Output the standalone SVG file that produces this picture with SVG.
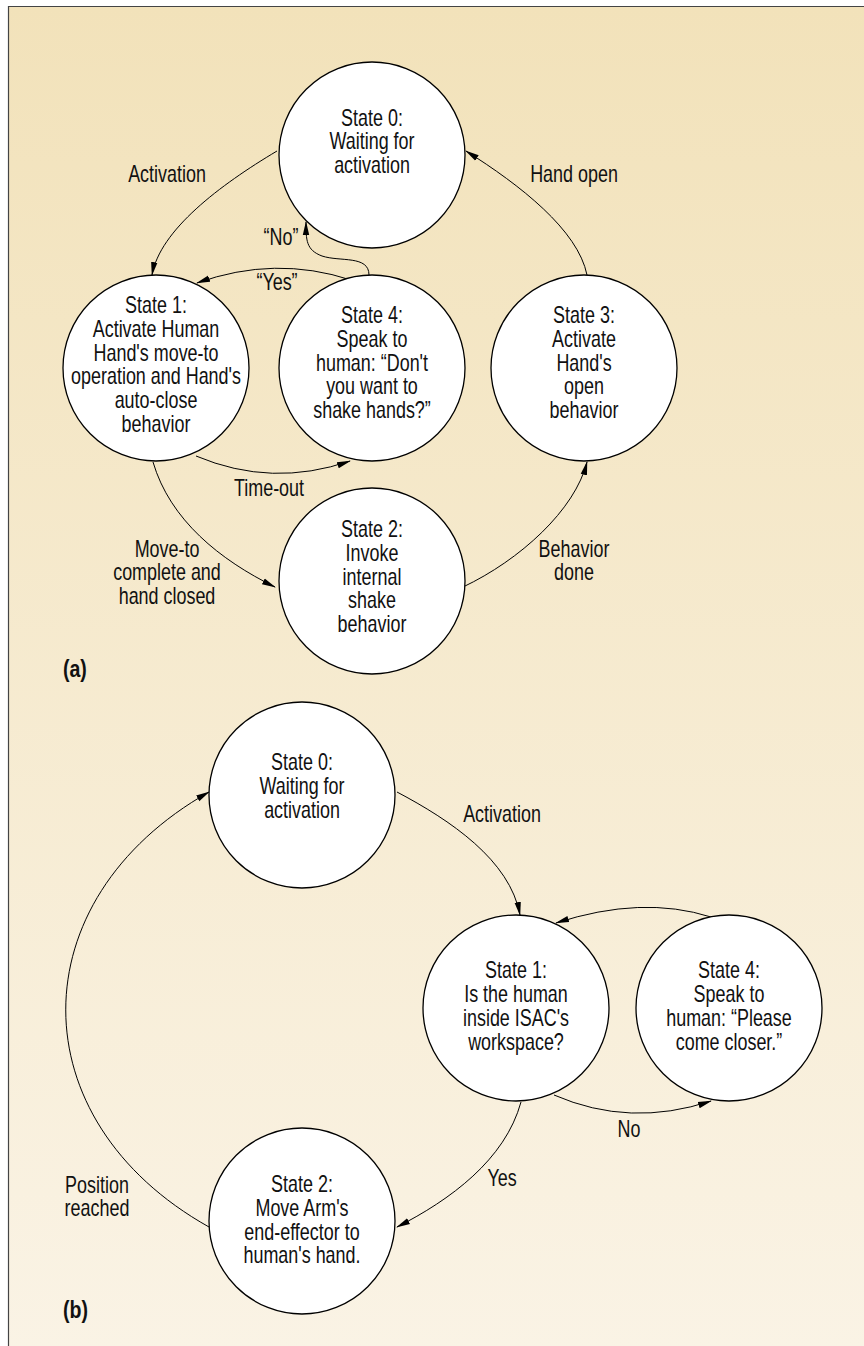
<svg xmlns="http://www.w3.org/2000/svg" width="864" height="1346" viewBox="0 0 864 1346">
<defs>
<linearGradient id="bg" x1="0" y1="0" x2="0" y2="1">
<stop offset="0" stop-color="#F2E2BA"/>
<stop offset="1" stop-color="#FAF3E5"/>
</linearGradient>
<marker id="arr" viewBox="0 0 14 8" refX="13" refY="4" markerWidth="14" markerHeight="8" markerUnits="userSpaceOnUse" orient="auto">
<path d="M0,0.8 L14,4 L0,7.2 Z" fill="#000"/>
</marker>
<style>
.node{fill:#fff;stroke:#000;stroke-width:1.3}
.edge{fill:none;stroke:#000;stroke-width:1;marker-end:url(#arr)}
text{font-family:"Liberation Sans",Arial,sans-serif;font-size:23px;fill:#111;text-anchor:middle}
.lbl{font-weight:bold;font-size:23px;text-anchor:start}
</style>
</defs>
<rect x="0" y="0" width="864" height="1346" fill="#fff"/>
<rect x="8" y="6" width="860" height="1345" fill="url(#bg)"/>
<path d="M8.5,1346 V6.5 H864" fill="none" stroke="#444" stroke-width="1.2"/>

<g id="connectors">
<path class="edge" d="M277,151 C220,185 160,230 152,275"/>
<path class="edge" d="M587,275 C578,230 520,185 466,151"/>
<path class="edge" d="M369,275 C369,255 340,262 322,256 C306,250 306,240 306,222"/>
<path class="edge" d="M351,280 Q275,255 197,283"/>
<path class="edge" d="M196,456 Q272,488 350,461"/>
<path class="edge" d="M153,462 C170,520 220,560 275,587"/>
<path class="edge" d="M463,587 C520,560 575,510 587,462"/>
<path class="edge" d="M397,792 C450,820 510,860 520,915"/>
<path class="edge" d="M711,917 Q642,895 556,923"/>
<path class="edge" d="M554,1095 Q630,1128 711,1101"/>
<path class="edge" d="M521,1102 C505,1160 450,1200 397,1227"/>
<path class="edge" d="M209,1227 C18,1120 18,900 209,792"/>
</g>

<g id="edge-labels">
<text transform="translate(167,182) scale(0.78,1)">Activation</text>
<text transform="translate(574,182) scale(0.78,1)">Hand open</text>
<text transform="translate(281,245) scale(0.78,1)">“No”</text>
<text transform="translate(277,290) scale(0.78,1)">“Yes”</text>
<text transform="translate(269,496) scale(0.78,1)">Time-out</text>
<text transform="translate(167,557) scale(0.78,1)"><tspan x="0" y="0">Move-to</tspan><tspan x="0" y="23.5">complete and</tspan><tspan x="0" y="47">hand closed</tspan></text>
<text transform="translate(574,557) scale(0.78,1)"><tspan x="0" y="0">Behavior</tspan><tspan x="0" y="23.5">done</tspan></text>
<text transform="translate(502,822) scale(0.78,1)">Activation</text>
<text transform="translate(629,1137) scale(0.78,1)">No</text>
<text transform="translate(502,1186) scale(0.78,1)">Yes</text>
<text transform="translate(97,1193) scale(0.78,1)"><tspan x="0" y="0">Position</tspan><tspan x="0" y="23.5">reached</tspan></text>
</g>

<g id="a-state0">
<circle class="node" cx="372" cy="155" r="93"/>
<text transform="translate(372,126) scale(0.78,1)"><tspan x="0" y="0">State 0:</tspan><tspan x="0" y="23.5">Waiting for</tspan><tspan x="0" y="47">activation</tspan></text>
</g>
<g id="a-state1">
<circle class="node" cx="156" cy="368" r="93"/>
<text transform="translate(156,313) scale(0.78,1)"><tspan x="0" y="0">State 1:</tspan><tspan x="0" y="23.8">Activate Human</tspan><tspan x="0" y="47.6">Hand's move-to</tspan><tspan x="0" y="71.4">operation and Hand's</tspan><tspan x="0" y="95.2">auto-close</tspan><tspan x="0" y="119">behavior</tspan></text>
</g>
<g id="a-state4">
<circle class="node" cx="372" cy="368" r="93"/>
<text transform="translate(372,323) scale(0.78,1)"><tspan x="0" y="0">State 4:</tspan><tspan x="0" y="23.8">Speak to</tspan><tspan x="0" y="47.6">human: “Don't</tspan><tspan x="0" y="71.4">you want to</tspan><tspan x="0" y="95.2">shake hands?”</tspan></text>
</g>
<g id="a-state3">
<circle class="node" cx="584" cy="368" r="93"/>
<text transform="translate(584,323) scale(0.78,1)"><tspan x="0" y="0">State 3:</tspan><tspan x="0" y="23.8">Activate</tspan><tspan x="0" y="47.6">Hand's</tspan><tspan x="0" y="71.4">open</tspan><tspan x="0" y="95.2">behavior</tspan></text>
</g>
<g id="a-state2">
<circle class="node" cx="372" cy="581" r="93"/>
<text transform="translate(372,537) scale(0.78,1)"><tspan x="0" y="0">State 2:</tspan><tspan x="0" y="23.8">Invoke</tspan><tspan x="0" y="47.6">internal</tspan><tspan x="0" y="71.4">shake</tspan><tspan x="0" y="95.2">behavior</tspan></text>
</g>

<g id="b-state0">
<circle class="node" cx="302" cy="795" r="93"/>
<text transform="translate(302,770) scale(0.78,1)"><tspan x="0" y="0">State 0:</tspan><tspan x="0" y="24">Waiting for</tspan><tspan x="0" y="48">activation</tspan></text>
</g>
<g id="b-state1">
<circle class="node" cx="516" cy="1008" r="93"/>
<text transform="translate(516,978) scale(0.78,1)"><tspan x="0" y="0">State 1:</tspan><tspan x="0" y="24">Is the human</tspan><tspan x="0" y="48">inside ISAC's</tspan><tspan x="0" y="72">workspace?</tspan></text>
</g>
<g id="b-state4">
<circle class="node" cx="729" cy="1008" r="93"/>
<text transform="translate(729,978) scale(0.78,1)"><tspan x="0" y="0">State 4:</tspan><tspan x="0" y="24">Speak to</tspan><tspan x="0" y="48">human: “Please</tspan><tspan x="0" y="72">come closer.”</tspan></text>
</g>
<g id="b-state2">
<circle class="node" cx="302" cy="1221" r="93"/>
<text transform="translate(302,1192) scale(0.78,1)"><tspan x="0" y="0">State 2:</tspan><tspan x="0" y="24">Move Arm's</tspan><tspan x="0" y="48">end-effector to</tspan><tspan x="0" y="71.5">human's hand.</tspan></text>
</g>

<g id="panel-labels">
<text class="lbl" transform="translate(63,677) scale(0.85,1)">(a)</text>
<text class="lbl" transform="translate(63,1318) scale(0.85,1)">(b)</text>
</g>
</svg>
